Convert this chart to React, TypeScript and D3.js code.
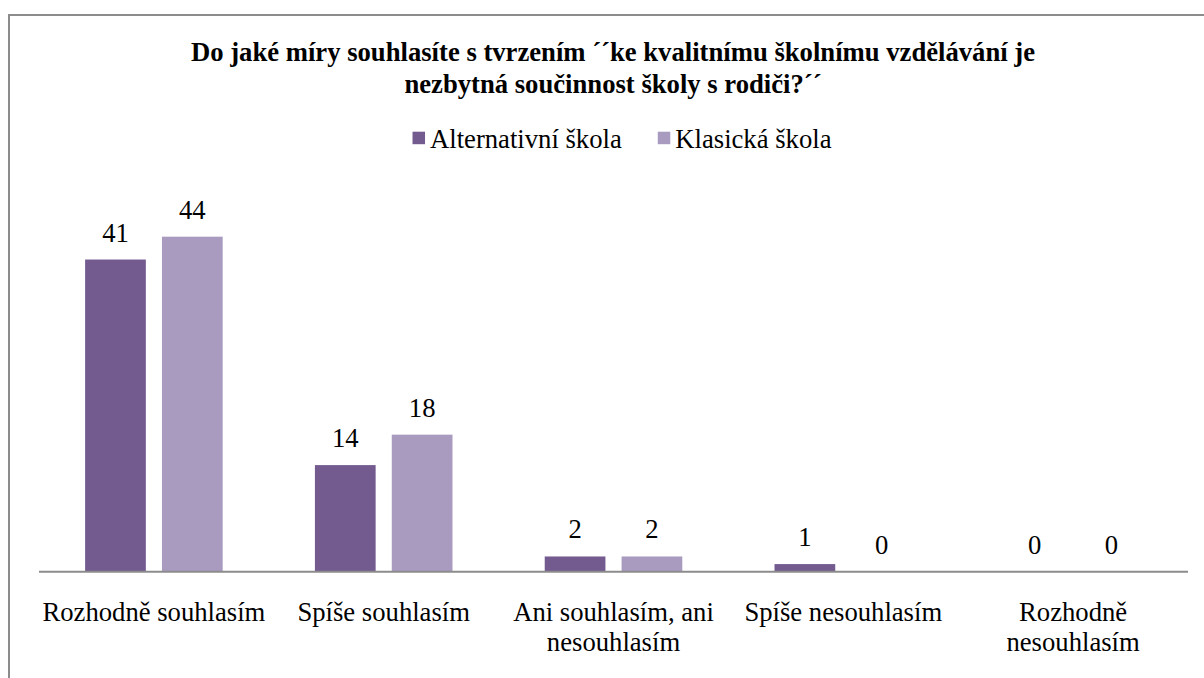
import * as d3 from "d3";
import { useEffect, useRef } from "react";

const width = 1204,
  height = 678,
  marginLeft = 39,
  marginRight = 16,
  axisY = 571.7,
  yMaxPx = 191;

const titleLines = [
  "Do jaké míry souhlasíte s tvrzením ´´ke kvalitnímu školnímu vzdělávání je",
  "nezbytná součinnost školy s rodiči?´´",
];
const categories = [
  "Rozhodně souhlasím",
  "Spíše souhlasím",
  "Ani souhlasím, ani nesouhlasím",
  "Spíše nesouhlasím",
  "Rozhodně nesouhlasím",
];
const series = ["Alternativní škola", "Klasická škola"];
const alternativni = [41, 14, 2, 1, 0];
const klasicka = [44, 18, 2, 0, 0];
const colors = ["#735a8f", "#a99bbf"];

const font = "Liberation Serif, Tinos, Times New Roman, DejaVu Serif, serif";
const fontSize = 26.67;

export default function App() {
  const ref = useRef<SVGSVGElement | null>(null);

  useEffect(() => {
    if (!ref.current) return;
    const svg = d3.select(ref.current);
    svg.selectAll("*").remove();

    const values = [alternativni, klasicka];

    // chart border (runs past the right and bottom edges)
    svg
      .append("rect")
      .attr("x", 9)
      .attr("y", 15)
      .attr("width", width + 20)
      .attr("height", height + 20)
      .attr("fill", "none")
      .attr("stroke", "#8c8c8c")
      .attr("stroke-width", 2);

    const x0 = d3
      .scaleBand<string>()
      .domain(categories)
      .range([marginLeft, width - marginRight])
      .padding(0);
    const x1 = d3
      .scaleBand<string>()
      .domain(series)
      .range([0, x0.bandwidth()])
      .paddingInner(0.21)
      .paddingOuter(0.6);
    const y = d3.scaleLinear([0, 50], [axisY, yMaxPx]);

    // title
    const title = svg
      .append("text")
      .attr("text-anchor", "middle")
      .style("font-family", font)
      .attr("font-size", fontSize)
      .attr("font-weight", "bold")
      .attr("fill", "#000");
    titleLines.forEach((t, i) => {
      title
        .append("tspan")
        .attr("x", 613)
        .attr("y", 61 + i * 32)
        .text(t);
    });

    // legend
    const legend = svg.append("g");
    let lx = 0;
    series.forEach((s, i) => {
      const g = legend.append("g").attr("transform", `translate(${lx},0)`);
      g.append("rect")
        .attr("x", 0)
        .attr("y", 131.7)
        .attr("width", 12.5)
        .attr("height", 12.5)
        .attr("fill", colors[i]);
      const t = g
        .append("text")
        .attr("x", 17.5)
        .attr("y", 148.3)
        .style("font-family", font)
        .attr("font-size", fontSize)
        .attr("fill", "#000")
        .text(s);
      const w = (t.node() as SVGTextElement).getComputedTextLength();
      lx += 17.5 + w + 36;
    });
    const legendWidth = lx - 36;
    legend.attr("transform", `translate(${622 - legendWidth / 2},0)`);

    // bars
    series.forEach((s, si) => {
      svg
        .append("g")
        .selectAll("rect")
        .data(categories)
        .join("rect")
        .attr("x", (c) => (x0(c) as number) + (x1(s) as number))
        .attr("y", (c, i) => y(values[si][i]))
        .attr("width", x1.bandwidth())
        .attr("height", (c, i) => axisY - y(values[si][i]))
        .attr("fill", colors[si]);

      svg
        .append("g")
        .selectAll("text")
        .data(categories)
        .join("text")
        .attr("x", (c) => (x0(c) as number) + (x1(s) as number) + x1.bandwidth() / 2)
        .attr("y", (c, i) => y(values[si][i]) - 18)
        .attr("text-anchor", "middle")
        .style("font-family", font)
        .attr("font-size", fontSize)
        .attr("fill", "#000")
        .text((c, i) => values[si][i]);
    });

    // x axis line
    svg
      .append("line")
      .attr("x1", marginLeft)
      .attr("x2", width - marginRight)
      .attr("y1", axisY)
      .attr("y2", axisY)
      .attr("stroke", "#8c8c8c")
      .attr("stroke-width", 2);

    // category labels, wrapped to the band width
    categories.forEach((c) => {
      const cx = (x0(c) as number) + x0.bandwidth() / 2;
      const t = svg
        .append("text")
        .attr("text-anchor", "middle")
        .style("font-family", font)
        .attr("font-size", fontSize)
        .attr("fill", "#000");
      const words = c.split(" ");
      let line: string[] = [];
      let lineNo = 0;
      let tspan = t.append("tspan").attr("x", cx).attr("y", 621);
      words.forEach((w) => {
        line.push(w);
        tspan.text(line.join(" "));
        if (
          (tspan.node() as SVGTSpanElement).getComputedTextLength() > x0.bandwidth() &&
          line.length > 1
        ) {
          line.pop();
          tspan.text(line.join(" "));
          line = [w];
          lineNo++;
          tspan = t
            .append("tspan")
            .attr("x", cx)
            .attr("y", 621 + lineNo * 29.5)
            .text(w);
        }
      });
    });
  }, []);

  return (
    <svg
      ref={ref}
      width={width}
      height={height}
      style={{ position: "absolute", left: 0, top: 0, background: "#fff" }}
    />
  );
}
